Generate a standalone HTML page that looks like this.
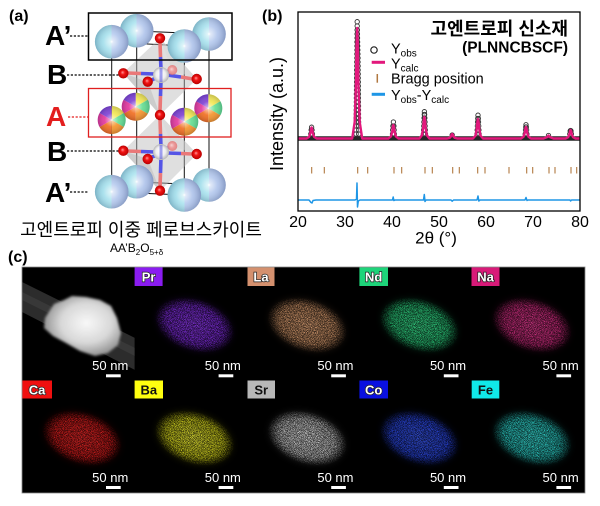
<!DOCTYPE html>
<html><head><meta charset="utf-8">
<style>
html,body{margin:0;padding:0;background:#fff;}
svg{display:block;}
text{font-family:"Liberation Sans","Noto Sans CJK KR",sans-serif;}
</style></head>
<body>
<svg width="600" height="506" viewBox="0 0 600 506" xmlns="http://www.w3.org/2000/svg">
<defs>
  <linearGradient id="half" x1="0" x2="1" y1="0" y2="0">
    <stop offset="0" stop-color="#93d6e6"/><stop offset="0.5" stop-color="#ace4ef"/>
    <stop offset="0.5" stop-color="#b6cbef"/><stop offset="1" stop-color="#a2b7e4"/>
  </linearGradient>
  <radialGradient id="shade" cx="0.5" cy="0.5" r="0.5">
    <stop offset="0" stop-color="#fff" stop-opacity="1"/>
    <stop offset="0.1" stop-color="#fff" stop-opacity="0.6"/>
    <stop offset="0.5" stop-color="#fff" stop-opacity="0.12"/>
    <stop offset="1" stop-color="#203050" stop-opacity="0.22"/>
  </radialGradient>
  <radialGradient id="ored" cx="0.5" cy="0.5" r="0.5" fx="0.42" fy="0.4">
    <stop offset="0" stop-color="#ff9a9a"/><stop offset="0.4" stop-color="#f21414"/><stop offset="1" stop-color="#b80000"/>
  </radialGradient>
  <radialGradient id="opink" cx="0.5" cy="0.5" r="0.5" fx="0.42" fy="0.4">
    <stop offset="0" stop-color="#ffd0d0"/><stop offset="0.5" stop-color="#f08a8a"/><stop offset="1" stop-color="#e07070"/>
  </radialGradient>
  <radialGradient id="bw" cx="0.5" cy="0.5" r="0.5" fx="0.45" fy="0.4">
    <stop offset="0" stop-color="#ffffff"/><stop offset="0.6" stop-color="#eeeeee"/><stop offset="1" stop-color="#b5b5b5"/>
  </radialGradient>
  <g id="bs"><circle r="16.8" fill="url(#half)"/><circle r="16.8" fill="url(#shade)"/></g>
  <g id="pie">
    <path d="M0,0 L0,-14 A14,14 0 0 1 12.12,-7 Z" fill="#f3e64c"/>
    <path d="M0,0 L12.12,-7 A14,14 0 0 1 12.12,7 Z" fill="#5edc8c"/>
    <path d="M0,0 L12.12,7 A14,14 0 0 1 0,14 Z" fill="#f49024"/>
    <path d="M0,0 L0,14 A14,14 0 0 1 -12.12,7 Z" fill="#f06818"/>
    <path d="M0,0 L-12.12,7 A14,14 0 0 1 -12.12,-7 Z" fill="#e23099"/>
    <path d="M0,0 L-12.12,-7 A14,14 0 0 1 0,-14 Z" fill="#7a3ad2"/>
    <circle r="14" fill="url(#shade)"/>
  </g>
  <g id="ox"><circle r="5.2" fill="url(#ored)"/></g>
  <g id="oxp"><circle r="5" fill="url(#opink)" opacity="0.8"/></g>
  <g id="bb"><circle r="8" fill="url(#bw)"/></g>
  <marker id="oc" markerWidth="6" markerHeight="6" refX="3" refY="3" markerUnits="userSpaceOnUse">
    <circle cx="3" cy="3" r="2.2" fill="none" stroke="#333" stroke-width="0.9"/>
  </marker>
  <filter id="sp" x="-10%" y="-10%" width="120%" height="120%">
    <feTurbulence type="fractalNoise" baseFrequency="1.3" numOctaves="2" seed="7" result="n"/>
    <feColorMatrix in="n" type="matrix" values="0 0 0 0 0  0 0 0 0 0  0 0 0 0 0  5 0 0 0 -2.25" result="m"/>
    <feComposite in="SourceGraphic" in2="m" operator="in"/>
  </filter>
  <filter id="bl"><feGaussianBlur stdDeviation="1.2"/></filter>
  <filter id="bl4" x="-30%" y="-30%" width="160%" height="160%"><feGaussianBlur stdDeviation="4"/></filter>
  <radialGradient id="stem" cx="0.55" cy="0.45" r="0.55">
    <stop offset="0" stop-color="#f8f8f8"/><stop offset="0.6" stop-color="#d8d8d8"/><stop offset="1" stop-color="#959595"/>
  </radialGradient>
  <clipPath id="t0"><rect x="22" y="267" width="112.6" height="113"/></clipPath>
</defs>

<!-- ================= PANEL (a) ================= -->
<text x="9" y="21" font-size="16" font-weight="bold">(a)</text>

<g font-weight="bold" font-size="28">
  <text x="45" y="45">A’</text>
  <text x="47" y="84">B</text>
  <text x="46" y="126" fill="#e31e1e">A</text>
  <text x="47" y="161">B</text>
  <text x="45" y="202">A’</text>
</g>
<g stroke-width="1.2" stroke-dasharray="2.2,1.6" fill="none">
  <line x1="70" y1="36" x2="88" y2="36" stroke="#000"/>
  <line x1="67" y1="75" x2="120" y2="75" stroke="#000"/>
  <line x1="68" y1="117" x2="88" y2="117" stroke="#e31e1e"/>
  <line x1="67" y1="151" x2="120" y2="151" stroke="#000"/>
  <line x1="70" y1="192" x2="88" y2="192" stroke="#000"/>
</g>

<!-- unit cell lines -->
<g stroke="#111" stroke-width="1" fill="none">
  <line x1="111.7" y1="42" x2="111.7" y2="192"/>
  <line x1="136.7" y1="31" x2="136.7" y2="182"/>
  <line x1="184.3" y1="46" x2="184.3" y2="195"/>
  <line x1="209" y1="34" x2="209" y2="185"/>
  <polygon points="111.7,42 136.7,31 209,34 184.3,46"/>
  <polygon points="111.7,192 136.7,182 209,185 184.3,195"/>
</g>

<!-- octahedra -->
<polygon points="160,38 197,79 160,115 123,73" fill="#b8b8b8" opacity="0.45"/>
<polygon points="160,38 172,70 197,79" fill="#d8d8d8" opacity="0.5"/>
<polygon points="123,73 148,82 160,115" fill="#a8a8a8" opacity="0.35"/>
<polygon points="160,115 197,154 160,191 123,151" fill="#b8b8b8" opacity="0.45"/>
<polygon points="160,115 172,146 197,154" fill="#d8d8d8" opacity="0.5"/>
<polygon points="123,151 148,159 160,191" fill="#a8a8a8" opacity="0.35"/>

<!-- bonds -->
<g stroke-width="3.6" stroke-linecap="butt">
  <line x1="160" y1="42" x2="160.5" y2="57" stroke="#ea7878"/>
  <line x1="160.5" y1="57" x2="161" y2="70" stroke="#5555e6"/>
  <line x1="161" y1="80" x2="160.5" y2="96" stroke="#5555e6"/>
  <line x1="160.5" y1="96" x2="160" y2="111" stroke="#ea7878"/>
  <line x1="155" y1="74" x2="141" y2="73.5" stroke="#5555e6"/>
  <line x1="141" y1="73.5" x2="127" y2="73" stroke="#ea7878"/>
  <line x1="167" y1="75" x2="181" y2="77" stroke="#5555e6"/>
  <line x1="181" y1="77" x2="193" y2="79" stroke="#ea7878"/>
  <line x1="157" y1="77" x2="152" y2="80" stroke="#5555e6"/>
  <line x1="165" y1="72" x2="169" y2="71" stroke="#8a8ae8" opacity="0.7"/>

  <line x1="160" y1="119" x2="160.5" y2="134" stroke="#ea7878"/>
  <line x1="160.5" y1="134" x2="161" y2="147" stroke="#5555e6"/>
  <line x1="161" y1="157" x2="160.5" y2="173" stroke="#5555e6"/>
  <line x1="160.5" y1="173" x2="160" y2="187" stroke="#ea7878"/>
  <line x1="155" y1="152" x2="141" y2="151.5" stroke="#5555e6"/>
  <line x1="141" y1="151.5" x2="127" y2="151" stroke="#ea7878"/>
  <line x1="167" y1="153" x2="181" y2="153.5" stroke="#5555e6"/>
  <line x1="181" y1="153.5" x2="193" y2="154" stroke="#ea7878"/>
  <line x1="157" y1="155" x2="152" y2="157" stroke="#5555e6"/>
  <line x1="165" y1="149" x2="169" y2="147" stroke="#8a8ae8" opacity="0.7"/>
</g>

<!-- B-site and O atoms -->
<use href="#oxp" x="172.3" y="70"/>
<use href="#oxp" x="172.3" y="146"/>
<use href="#bb" x="161" y="75"/>
<use href="#bb" x="161" y="152"/>
<line x1="161" y1="68" x2="161" y2="82" stroke="#5555e6" stroke-width="3" opacity="0.55"/>
<line x1="161" y1="145" x2="161" y2="159" stroke="#5555e6" stroke-width="3" opacity="0.55"/>
<use href="#ox" x="160" y="38.3"/>
<use href="#ox" x="123.3" y="73.3"/>
<use href="#ox" x="147.7" y="81.7"/>
<use href="#ox" x="196.7" y="79"/>
<use href="#ox" x="160" y="115"/>
<use href="#ox" x="123.3" y="150.7"/>
<use href="#ox" x="147.7" y="159"/>
<use href="#ox" x="196.7" y="154"/>
<use href="#ox" x="160" y="190.7"/>

<!-- A' spheres -->
<use href="#bs" x="136.7" y="30.7"/>
<use href="#bs" x="209" y="34"/>
<use href="#bs" x="111.7" y="41.7"/>
<use href="#bs" x="184.3" y="46"/>
<use href="#bs" x="136.7" y="181.7"/>
<use href="#bs" x="209" y="185"/>
<use href="#bs" x="111.7" y="191.7"/>
<use href="#bs" x="184.3" y="195"/>
<!-- A spheres -->
<use href="#pie" x="135.7" y="106.7"/>
<use href="#pie" x="208.3" y="108.3"/>
<use href="#pie" x="111.7" y="120"/>
<use href="#pie" x="184.3" y="121.7"/>

<rect x="88.5" y="13" width="143.5" height="47" fill="none" stroke="#000" stroke-width="1.5"/>
<rect x="88.5" y="88.5" width="142.5" height="48.5" fill="none" stroke="#e02020" stroke-width="1.3"/>

<text x="141" y="236" font-size="18" text-anchor="middle">고엔트로피 이중 페로브스카이트</text>
<text x="110" y="252" font-size="12">AA’B<tspan font-size="8" dy="3">2</tspan><tspan dy="-3">O</tspan><tspan font-size="8" dy="3">5+δ</tspan></text>

<!-- ================= PANEL (b) ================= -->
<text x="262" y="21" font-size="16" font-weight="bold">(b)</text>
<text transform="translate(283,114) rotate(-90)" font-size="18" text-anchor="middle">Intensity (a.u.)</text>

<text x="568" y="35" font-size="18" font-weight="bold" text-anchor="end">고엔트로피 신소재</text>
<text x="568" y="52.5" font-size="15.5" font-weight="bold" text-anchor="end">(PLNNCBSCF)</text>

<!-- legend -->
<circle cx="374" cy="50" r="3.2" fill="none" stroke="#222" stroke-width="1.2"/>
<line x1="371.7" y1="62.3" x2="385" y2="62.3" stroke="#e2187c" stroke-width="3"/>
<line x1="377.3" y1="74" x2="377.3" y2="82.7" stroke="#b07840" stroke-width="1.5"/>
<line x1="371.7" y1="94.3" x2="385" y2="94.3" stroke="#1e96e6" stroke-width="3"/>
<g font-size="14.5">
  <text x="391" y="53.5">Y<tspan font-size="10" dy="3">obs</tspan></text>
  <text x="391" y="68.3">Y<tspan font-size="10" dy="3">calc</tspan></text>
  <text x="391" y="83.3">Bragg position</text>
  <text x="391" y="100">Y<tspan font-size="10" dy="3">obs</tspan><tspan dy="-3">-Y</tspan><tspan font-size="10" dy="3">calc</tspan></text>
</g>

<!-- observed baseline band -->
<line x1="298" y1="138.5" x2="580" y2="138.5" stroke="#262626" stroke-width="4.6"/>
<!-- observed circles at peaks -->
<g fill="none" stroke="none" marker-start="url(#oc)" marker-mid="url(#oc)" marker-end="url(#oc)">
  <polyline points="310.8,134 311.2,130 311.6,127.2 312,130 312.4,134"/>
  <polyline points="356.1,134 356.1,130 356.2,126 356.2,122 356.2,118 356.3,114 356.3,110 356.3,106 356.4,102 356.4,98 356.4,94 356.5,90 356.5,86 356.6,82 356.6,78 356.7,74 356.7,70 356.8,66 356.8,62 356.9,58 356.9,54 357,50 357,46 357,42 357.1,38 357.1,34 357.2,30 357.2,26 357.2,21.7 357.3,30 357.4,34 357.5,38 357.6,42 357.7,46 357.8,50 357.9,54 358,58 358,62 358.1,66 358.1,70 358.2,74 358.2,78 358.3,82 358.3,86 358.3,90 358.4,94 358.4,98 358.4,102 358.5,106 358.5,110 358.5,114 358.6,118 358.6,122 358.6,126 358.7,130 358.7,134"/>
  <polyline points="392.5,134 392.7,130 392.9,126 393.4,122 393.9,126 394.1,130 394.3,134"/>
  <polyline points="423.4,134 423.6,130 423.8,126 423.9,122 424.1,118 424.3,114.5 424.4,111.7 424.6,114.5 424.8,118 425,122 425.1,126 425.3,130 425.5,134"/>
  <polyline points="452.2,135"/>
  <polyline points="477,134 477.2,130 477.4,126 477.6,122 477.8,118.5 478,115.2 478.3,118.5 478.5,122 478.7,126 478.9,130 479.1,134"/>
  <polyline points="525.2,134 525.5,130 525.8,127 526,124.8 526.3,127 526.6,130 526.9,134"/>
  <polyline points="548.5,135.5"/>
  <polyline points="569.8,134 570.2,131 570.6,130.5 571,131 571.4,134"/>
</g>

<!-- calculated line -->
<polyline fill="none" stroke="#e2187c" stroke-width="2.4" stroke-linejoin="round" points="
298,138.5
306.6,138.5 309.1,136.9 310.4,133 311,129.2 311.6,127.5 312.2,129.2 312.8,133 314.1,136.9 316.6,138.5
352.2,138.5 354.7,121.9 356,83.2 356.6,44.6 357.2,28 357.8,44.6 358.4,83.2 359.7,121.9 362.2,138.5
388.4,138.5 390.9,136.5 392.2,131.8 392.8,127 393.4,125 394,127 394.6,131.8 395.9,136.5 398.4,138.5
419.4,138.5 421.9,135.3 423.2,127.8 423.8,120.2 424.4,117 425,120.2 425.6,127.8 426.9,135.3 429.4,138.5
447.2,138.5 449.7,137.8 451,136.3 451.6,134.7 452.2,134 452.8,134.7 453.4,136.3 454.7,137.8 457.2,138.5
473,138.5 475.5,135.6 476.8,128.8 477.4,121.9 478,119 478.6,121.9 479.2,128.8 480.5,135.6 483,138.5
521,138.5 523.5,136.8 524.8,132.8 525.4,128.7 526,127 526.6,128.7 527.2,132.8 528.5,136.8 531,138.5
543.5,138.5 547.3,137 548.5,135.5 549.7,137 553.5,138.5
565.6,138.5 568.1,137.2 569.4,134.3 570,131.3 570.6,130 571.2,131.3 571.8,134.3 573.1,137.2 575.6,138.5
580,138.5"/>

<!-- Bragg ticks -->
<g stroke="#b07840" stroke-width="1.1">
  <line x1="311.7" y1="167" x2="311.7" y2="173.5"/>
  <line x1="324.3" y1="167" x2="324.3" y2="173.5"/>
  <line x1="357.7" y1="167" x2="357.7" y2="173.5"/>
  <line x1="367.7" y1="167" x2="367.7" y2="173.5"/>
  <line x1="394" y1="167" x2="394" y2="173.5"/>
  <line x1="401.7" y1="167" x2="401.7" y2="173.5"/>
  <line x1="425" y1="167" x2="425" y2="173.5"/>
  <line x1="432.3" y1="167" x2="432.3" y2="173.5"/>
  <line x1="452.7" y1="167" x2="452.7" y2="173.5"/>
  <line x1="459.3" y1="167" x2="459.3" y2="173.5"/>
  <line x1="477.7" y1="167" x2="477.7" y2="173.5"/>
  <line x1="485" y1="167" x2="485" y2="173.5"/>
  <line x1="509" y1="167" x2="509" y2="173.5"/>
  <line x1="526.7" y1="167" x2="526.7" y2="173.5"/>
  <line x1="532.7" y1="167" x2="532.7" y2="173.5"/>
  <line x1="549" y1="167" x2="549" y2="173.5"/>
  <line x1="555" y1="167" x2="555" y2="173.5"/>
  <line x1="571" y1="167" x2="571" y2="173.5"/>
  <line x1="576.7" y1="167" x2="576.7" y2="173.5"/>
</g>

<!-- difference -->
<polyline fill="none" stroke="#1e96e6" stroke-width="1.5" stroke-linejoin="round" points="
298,200 309,200 311,202.5 312,203 313,200.5 316,200 355,200 356.5,199 357,183 357.5,207 358.3,201 360,200
392.5,200 393.2,197 393.8,200.5 395,200 423.5,200 424.3,194.5 425,201.5 426,200 451,200 452.2,201.2 453.5,200
477,200 478,196 478.8,201 480,200 525,200 526,197.5 527,200.5 528,200 570,200 570.6,201 571.5,200 580,200"/>

<rect x="298" y="12" width="282" height="199" fill="none" stroke="#000" stroke-width="1.3"/>
<g font-size="16" text-anchor="middle">
  <text x="298" y="227">20</text><text x="345" y="227">30</text><text x="392" y="227">40</text>
  <text x="439" y="227">50</text><text x="486" y="227">60</text><text x="533" y="227">70</text>
  <text x="580" y="227">80</text>
</g>
<text x="436" y="243.5" font-size="17" text-anchor="middle">2θ (°)</text>

<!-- ================= PANEL (c) ================= -->
<text x="8" y="262" font-size="16" font-weight="bold">(c)</text>
<rect x="22" y="267" width="563" height="226" fill="#000"/>

<!-- STEM tile -->
<g clip-path="url(#t0)">
  <polygon points="22,282 22,312 135,370 135,338" fill="#2c2c2c"/>
  <polygon points="22,292 22,300 135,356 135,348" fill="#383838"/>
  <path d="M45,318 L54,304 L64,300 L72,296 L86,297 L100,300 L111,306 L117,318 L121,333 L118,345 L108,353 L95,356 L80,351 L66,343 L53,336 L44,328 Z" fill="url(#stem)" filter="url(#bl)"/>
</g>

<!-- EDS blobs -->
<defs>
  <radialGradient id="gPr"><stop offset="0" stop-color="#9a40ff"/><stop offset="0.7" stop-color="#8a30f0" stop-opacity="0.9"/><stop offset="1" stop-color="#8a30f0" stop-opacity="0"/></radialGradient>
  <radialGradient id="gLa"><stop offset="0" stop-color="#f0b080"/><stop offset="0.7" stop-color="#e0a070" stop-opacity="0.9"/><stop offset="1" stop-color="#e0a070" stop-opacity="0"/></radialGradient>
  <radialGradient id="gNd"><stop offset="0" stop-color="#40f098"/><stop offset="0.7" stop-color="#30e088" stop-opacity="0.9"/><stop offset="1" stop-color="#30e088" stop-opacity="0"/></radialGradient>
  <radialGradient id="gNa"><stop offset="0" stop-color="#f0409a"/><stop offset="0.7" stop-color="#e0308a" stop-opacity="0.9"/><stop offset="1" stop-color="#e0308a" stop-opacity="0"/></radialGradient>
  <radialGradient id="gCa"><stop offset="0" stop-color="#ff3030"/><stop offset="0.7" stop-color="#f02020" stop-opacity="0.9"/><stop offset="1" stop-color="#f02020" stop-opacity="0"/></radialGradient>
  <radialGradient id="gBa"><stop offset="0" stop-color="#ffff40"/><stop offset="0.7" stop-color="#f0f020" stop-opacity="0.9"/><stop offset="1" stop-color="#f0f020" stop-opacity="0"/></radialGradient>
  <radialGradient id="gSr"><stop offset="0" stop-color="#f0f0f0"/><stop offset="0.7" stop-color="#dcdcdc" stop-opacity="0.9"/><stop offset="1" stop-color="#dcdcdc" stop-opacity="0"/></radialGradient>
  <radialGradient id="gCo"><stop offset="0" stop-color="#4060ff"/><stop offset="0.7" stop-color="#3050ff" stop-opacity="0.9"/><stop offset="1" stop-color="#3050ff" stop-opacity="0"/></radialGradient>
  <radialGradient id="gFe"><stop offset="0" stop-color="#40f0e8"/><stop offset="0.7" stop-color="#30e0d8" stop-opacity="0.9"/><stop offset="1" stop-color="#30e0d8" stop-opacity="0"/></radialGradient>
  <g id="blobs">
    <ellipse cx="194.6" cy="325" rx="41" ry="26" fill="url(#gPr)" transform="rotate(18 194.6 325)"/>
    <ellipse cx="307.2" cy="325" rx="41" ry="26" fill="url(#gLa)" transform="rotate(18 307.2 325)"/>
    <ellipse cx="419.4" cy="325" rx="41" ry="26" fill="url(#gNd)" transform="rotate(18 419.4 325)"/>
    <ellipse cx="532" cy="325" rx="41" ry="26" fill="url(#gNa)" transform="rotate(18 532 325)"/>
    <ellipse cx="82" cy="438" rx="41" ry="26" fill="url(#gCa)" transform="rotate(18 82 438)"/>
    <ellipse cx="194.6" cy="438" rx="41" ry="26" fill="url(#gBa)" transform="rotate(18 194.6 438)"/>
    <ellipse cx="307.2" cy="438" rx="41" ry="26" fill="url(#gSr)" transform="rotate(18 307.2 438)"/>
    <ellipse cx="419.4" cy="438" rx="41" ry="26" fill="url(#gCo)" transform="rotate(18 419.4 438)"/>
    <ellipse cx="532" cy="438" rx="41" ry="26" fill="url(#gFe)" transform="rotate(18 532 438)"/>
  </g>
</defs>
<use href="#blobs" opacity="0.28" filter="url(#bl4)"/>
<g filter="url(#sp)" opacity="0.85"><use href="#blobs"/></g>

<!-- element labels -->
<g font-size="13" font-weight="bold" text-anchor="middle">
  <rect x="134.6" y="267" width="28" height="19" fill="#8a1cf0"/>
  <text x="148.6" y="281.5" fill="#fff" stroke="#222" stroke-width="1.4" paint-order="stroke">Pr</text>
  <rect x="247.5" y="267" width="27" height="19" fill="#d4906e"/>
  <text x="261" y="281.5" fill="#fff" stroke="#222" stroke-width="1.4" paint-order="stroke">La</text>
  <rect x="359.4" y="267" width="28.6" height="19" fill="#1ed47a"/>
  <text x="373.7" y="281.5" fill="#fff" stroke="#222" stroke-width="1.4" paint-order="stroke">Nd</text>
  <rect x="471.5" y="267" width="28" height="19" fill="#d81a78"/>
  <text x="485.5" y="281.5" fill="#fff" stroke="#222" stroke-width="1.4" paint-order="stroke">Na</text>

  <rect x="22" y="380.5" width="30" height="18" fill="#f01010"/>
  <text x="37" y="394.5" fill="#fff" stroke="#222" stroke-width="1.4" paint-order="stroke">Ca</text>
  <rect x="134.6" y="380.5" width="28.4" height="18" fill="#ffff10"/>
  <text x="148.8" y="394.5" fill="#111">Ba</text>
  <rect x="247.5" y="380.5" width="27.5" height="18" fill="#b8b8b8"/>
  <text x="261.2" y="394.5" fill="#111">Sr</text>
  <rect x="359.4" y="380.5" width="28.6" height="18" fill="#0a10e0"/>
  <text x="373.7" y="394.5" fill="#fff" stroke="#222" stroke-width="1.4" paint-order="stroke">Co</text>
  <rect x="471.7" y="380.5" width="27.6" height="18" fill="#10e8e8"/>
  <text x="485.5" y="394.5" fill="#111">Fe</text>
</g>

<!-- scale bars -->
<g fill="#fff" font-size="13" text-anchor="end">
  <text x="128.3" y="370">50 nm</text><rect x="106" y="374.3" width="14.7" height="3"/>
  <text x="240.9" y="370">50 nm</text><rect x="218.6" y="374.3" width="14.7" height="3"/>
  <text x="353.5" y="370">50 nm</text><rect x="331.2" y="374.3" width="14.7" height="3"/>
  <text x="466.1" y="370">50 nm</text><rect x="443.8" y="374.3" width="14.7" height="3"/>
  <text x="578.7" y="370">50 nm</text><rect x="556.4" y="374.3" width="14.7" height="3"/>

  <text x="128.3" y="482">50 nm</text><rect x="106" y="486" width="14.7" height="3"/>
  <text x="240.9" y="482">50 nm</text><rect x="218.6" y="486" width="14.7" height="3"/>
  <text x="353.5" y="482">50 nm</text><rect x="331.2" y="486" width="14.7" height="3"/>
  <text x="466.1" y="482">50 nm</text><rect x="443.8" y="486" width="14.7" height="3"/>
  <text x="578.7" y="482">50 nm</text><rect x="556.4" y="486" width="14.7" height="3"/>
</g>
<rect x="22" y="267" width="563" height="226" fill="none" stroke="#8a8a8a" stroke-width="0.8"/>
</svg>
</body></html>
